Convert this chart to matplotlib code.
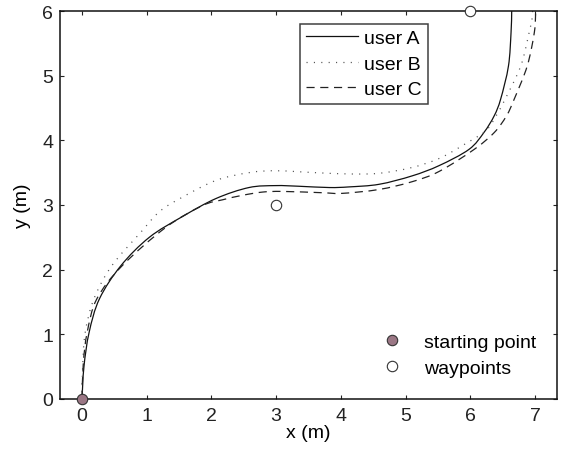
import matplotlib
matplotlib.use("Agg")
import matplotlib.pyplot as plt
import numpy as np
from matplotlib.path import Path
from matplotlib.patches import PathPatch
from matplotlib.lines import Line2D

# Trajectories (x, y in metres)
userA_x = [0, 0.03, 0.11, 0.27, 0.6, 1.04, 1.55, 2.07, 2.58, 2.99, 3.35, 3.82, 4.13,
           4.59, 5.1, 5.52, 5.98, 6.21, 6.37, 6.47, 6.59, 6.63, 6.64, 6.645]
userA_y = [0, 0.5, 1.03, 1.55, 2.06, 2.5, 2.82, 3.1, 3.27, 3.3, 3.29, 3.27, 3.28,
           3.32, 3.45, 3.61, 3.86, 4.12, 4.38, 4.64, 5.15, 5.67, 6.0, 6.3]

userB_x = [0, 0.01, 0.05, 0.185, 0.46, 0.91, 1.2, 1.55, 2.07, 2.58, 2.99, 3.61, 4.13,
           4.59, 5.1, 5.52, 5.88, 6.24, 6.4, 6.54, 6.78, 6.91, 6.96, 6.97]
userB_y = [0, 0.5, 1.03, 1.55, 2.06, 2.58, 2.9, 3.12, 3.38, 3.5, 3.53, 3.5, 3.48,
           3.49, 3.58, 3.72, 3.92, 4.15, 4.38, 4.64, 5.15, 5.67, 5.93, 6.3]

userC_x = [0, 0.02, 0.08, 0.23, 0.62, 1.29, 1.86, 2.17, 2.48, 2.79, 3.1, 3.71, 4.02,
           4.59, 5.1, 5.52, 6.06, 6.37, 6.56, 6.68, 6.88, 6.99, 7.01, 7.02]
userC_y = [0, 0.55, 1.03, 1.55, 2.06, 2.65, 2.99, 3.08, 3.15, 3.2, 3.21, 3.19, 3.18,
           3.24, 3.36, 3.52, 3.86, 4.12, 4.38, 4.64, 5.15, 5.67, 5.98, 6.3]

start_x, start_y = [0], [0]
waypoints_x = [3, 6]
waypoints_y = [3, 6]


def smooth_path(xs, ys):
    # Catmull-Rom through the read points, drawn as cubic Bezier segments
    p = np.column_stack([xs, ys]).astype(float)
    ext = np.vstack([p[0], p, p[-1]])
    verts = [p[0]]
    codes = [Path.MOVETO]
    for i in range(1, len(ext) - 2):
        c1 = ext[i] + (ext[i + 1] - ext[i - 1]) / 6
        c2 = ext[i + 1] - (ext[i + 2] - ext[i]) / 6
        verts += [c1, c2, ext[i + 1]]
        codes += [Path.CURVE4] * 3
    return Path(verts, codes)


plt.rcParams['font.family'] = ['Liberation Sans', 'DejaVu Sans']
plt.rcParams['font.size'] = 14

fig = plt.figure(figsize=(5.63, 4.56), dpi=100)
ax = fig.add_axes([60 / 563, 56 / 456, 497 / 563, 388 / 456])

styles = [
    (userA_x, userA_y, '#111111', '-', 'user A'),
    (userB_x, userB_y, '#555555', (0, (0.9, 5.0)), 'user B'),
    (userC_x, userC_y, '#222222', (0, (6.5, 4.5)), 'user C'),
]
handles = []
for xs, ys, col, ls, lab in styles:
    patch = PathPatch(smooth_path(xs, ys), facecolor='none', edgecolor=col,
                      lw=0.9, linestyle=ls)
    ax.add_patch(patch)
    handles.append(Line2D([], [], color=col, lw=0.9, linestyle=ls, label=lab))

ms, = ax.plot(start_x, start_y, 'o', ms=7.5, mfc='#9b7785', mec='#333333', mew=0.8,
              clip_on=False, zorder=5, label='starting point')
mw, = ax.plot(waypoints_x, waypoints_y, 'o', ms=7.5, mfc='white', mec='#333333', mew=0.8,
              clip_on=False, zorder=5, label='waypoints')

ax.set_xlim(-0.34, 7.34)
ax.set_ylim(0, 6)
ax.set_xticks(range(0, 8))
ax.set_yticks(range(0, 7))
ax.tick_params(direction='in', length=3, width=0.8, top=True, right=True,
               labelsize=14, colors='#222222')
ax.tick_params(axis='x', pad=6)
ax.tick_params(axis='y', pad=5)
for s in ax.spines.values():
    s.set_linewidth(1.1)
    s.set_color('#111111')

ax.set_xlabel('x (m)', fontsize=14, labelpad=0)
ax.set_ylabel('y (m)', fontsize=14, labelpad=8)

leg1 = ax.legend(handles=handles, loc='upper left', bbox_to_anchor=(0.483, 0.967),
                 frameon=True, fancybox=False, edgecolor='#111111', handlelength=2.7,
                 handletextpad=0.3, borderpad=0.3, labelspacing=0.4, borderaxespad=0,
                 fontsize=14)
leg1.get_frame().set_linewidth(1.1)
ax.add_artist(leg1)

ax.legend(handles=[ms, mw], loc='lower right', bbox_to_anchor=(0.973, 0.037),
          frameon=False, handletextpad=0.6, labelspacing=0.45, borderaxespad=0,
          fontsize=14)

fig.savefig('out.png', dpi=100)
